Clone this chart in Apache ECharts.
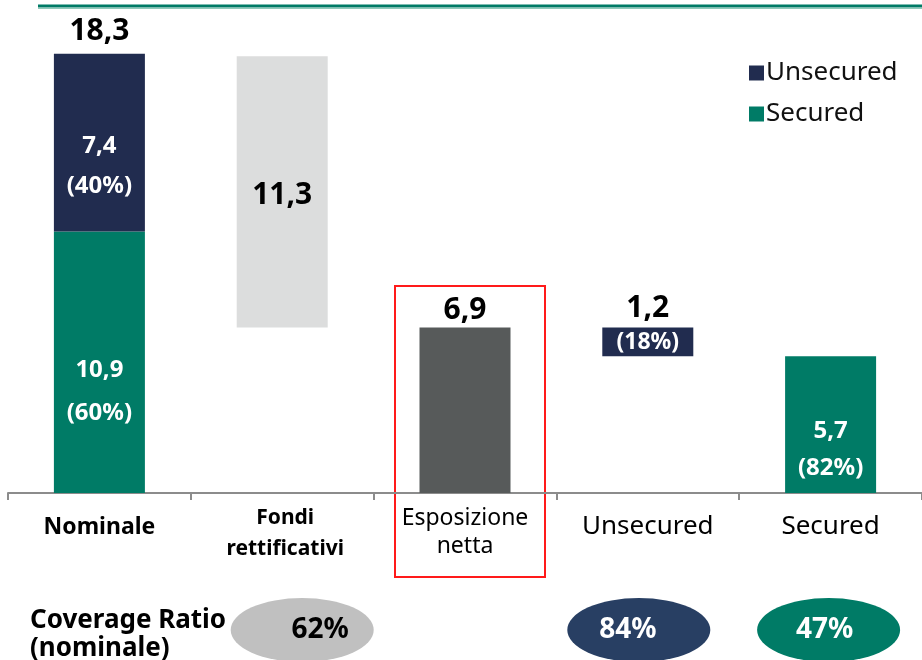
<!DOCTYPE html>
<html><head><meta charset="utf-8">
<script src="https://cdn.jsdelivr.net/npm/echarts@6/dist/echarts.min.js"></script>
<style>html,body{margin:0;padding:0;background:#fff}#chart{width:922px;height:660px}</style>
</head><body><div id="chart"></div>
<script>
// Categories along the x axis
const categories = ['Nominale', 'Fondi\nrettificativi', 'Esposizione\nnetta', 'Unsecured', 'Secured'];
// Invisible floor under floating bars (bn €)
const baseValues = [0, 6.9, 0, 5.7, 0];
const securedValues = [10.9, '-', '-', '-', 5.7];
const unsecuredValues = [7.4, '-', '-', 1.2, '-'];
const fondiValues = ['-', 11.3, '-', '-', '-'];
const nettaValues = ['-', '-', 6.9, '-', '-'];
// Totals printed above the stacks
const totalValues = [18.3, '-', '-', 1.2, '-'];
// Shares (%) shown under the values
const securedShare = [60, '-', '-', '-', 82];
const unsecuredShare = [40, '-', '-', 18, '-'];
// Coverage ratio row (%)
const coverageRatio = ['-', 62, '-', 84, 47];

const NAVY = '#212c4f', TEAL = '#007b66', LIGHT = '#dcdddd', DARK = '#575a5a';
const FONT = 'Noto Sans';
const fmt = v => v.toFixed(1).replace('.', ',');

const white = (size, lh) => ({ color: '#fff', fontWeight: 'bold', fontSize: size, lineHeight: lh, fontFamily: FONT });

// per-item label placement for the stacked sections
const securedLabelOpt = { 0: { offset: [0, 29], lh: 43 }, 4: { offset: [0, 25], lh: 37 } };
const unsecuredLabelOpt = { 0: { offset: [0, 24], lh: 40 }, 3: { offset: [0, 1], lh: 24 } };

function items(values, build) {
  return values.map((v, i) => (v === '-' ? '-' : Object.assign({ value: v }, build ? build(v, i) : {})));
}

const securedData = items(securedValues, (v, i) => ({
  label: Object.assign({ show: true, position: 'inside', offset: securedLabelOpt[i].offset,
    formatter: fmt(v) + '\n(' + securedShare[i] + '%)' }, white(24, securedLabelOpt[i].lh))
}));
const unsecuredData = items(unsecuredValues, (v, i) => ({
  label: Object.assign({ show: true, position: 'inside', offset: unsecuredLabelOpt[i].offset,
    formatter: i === 0 ? fmt(v) + '\n(' + unsecuredShare[i] + '%)' : '(' + unsecuredShare[i] + '%)' },
    white(i === 0 ? 24 : 23, unsecuredLabelOpt[i].lh))
}));
// zero-height caps carrying the total labels
const totalData = items(totalValues, (v, i) => ({
  value: 0,
  label: { show: true, position: 'top', distance: i === 0 ? 7 : 4, formatter: fmt(v), color: '#000', fontWeight: 'bold', fontSize: 30, fontFamily: FONT }
}));

const coverageColors = ['#c0c0c0', '#c0c0c0', '#c0c0c0', '#283f63', TEAL];
const coverageText = ['#000', '#000', '#000', '#fff', '#fff'];
const coverageOffset = [0, 20, 0, -9, -2];
const coverageData = coverageRatio.map((v, i) => v === '-' ? null : {
  value: [i, 0, v],
  symbolOffset: [coverageOffset[i], 0],
  itemStyle: { color: coverageColors[i], opacity: 1 },
  label: { show: true, position: 'inside', offset: [coverageOffset[i] - 2, 0], formatter: v + '%', color: coverageText[i], fontWeight: 'bold', fontSize: 28, fontFamily: FONT }
}).filter(Boolean);

const labelStyles = [
  { fontWeight: 'bold', fontSize: 23, lineHeight: 30, padding: [9, 0, 0, 0] },
  { fontWeight: 'bold', fontSize: 21, lineHeight: 31, padding: [0, 0, 0, 6] },
  { fontWeight: 'normal', fontSize: 23, lineHeight: 28, padding: [1, 0, 0, 0] },
  { fontWeight: 'normal', fontSize: 26, lineHeight: 30, padding: [9, 0, 0, 0] },
  { fontWeight: 'normal', fontSize: 26, lineHeight: 30, padding: [9, 0, 0, 0] }
];

const chart = echarts.init(document.getElementById('chart'), null, { renderer: 'canvas' });
chart.setOption({
  animation: false,
  backgroundColor: '#fff',
  textStyle: { fontFamily: FONT },
  legend: {
    data: ['Unsecured', 'Secured'],
    orient: 'vertical', left: 744, top: 55, itemGap: 15,
    itemWidth: 15, itemHeight: 15, icon: 'rect',
    textStyle: { fontSize: 26, lineHeight: 26, color: '#111', fontFamily: FONT, padding: [0, 0, 0, -3] }
  },
  grid: [
    { left: 8, width: 916.5, top: 13, height: 480 },
    { left: 8, width: 916.5, top: 600, height: 64 }
  ],
  xAxis: [
    {
      type: 'category', gridIndex: 0,
      data: categories.map((c, i) => ({ value: c, textStyle: labelStyles[i] })),
      axisLine: { lineStyle: { color: '#8c8c8c', width: 2 } },
      axisTick: { show: true, length: 7, lineStyle: { color: '#8c8c8c', width: 2 } },
      axisLabel: { color: '#000', margin: 10, fontFamily: FONT, interval: 0 }
    },
    { type: 'category', gridIndex: 1, data: categories, show: false }
  ],
  yAxis: [
    { type: 'value', gridIndex: 0, min: 0, max: 20, show: false, splitLine: { show: false } },
    { type: 'value', gridIndex: 1, min: -1, max: 1, show: false, splitLine: { show: false } }
  ],
  series: [
    { name: 'base', type: 'bar', stack: 'w', barWidth: 91, data: baseValues, itemStyle: { color: 'transparent' }, silent: true },
    { name: 'Secured', type: 'bar', stack: 'w', barWidth: 91, data: securedData, itemStyle: { color: TEAL } },
    { name: 'Unsecured', type: 'bar', stack: 'w', barWidth: 91, data: unsecuredData, itemStyle: { color: NAVY } },
    { name: 'Fondi', type: 'bar', stack: 'w', barWidth: 91, data: fondiValues, itemStyle: { color: LIGHT },
      label: { show: true, position: 'inside', offset: [0, 4], formatter: p => fmt(p.value), color: '#000', fontWeight: 'bold', fontSize: 30, fontFamily: FONT } },
    { name: 'Netta', type: 'bar', stack: 'w', barWidth: 91, data: nettaValues, itemStyle: { color: DARK },
      label: { show: true, position: 'top', distance: 2, formatter: p => fmt(p.value), color: '#000', fontWeight: 'bold', fontSize: 30, fontFamily: FONT } },
    { name: 'Totale', type: 'bar', stack: 'w', barWidth: 91, data: totalData, itemStyle: { color: 'transparent' } },
    { name: 'Coverage', type: 'scatter', xAxisIndex: 1, yAxisIndex: 1, symbol: 'circle', symbolSize: [143, 64], data: coverageData }
  ],
  graphic: [
    { type: 'line', shape: { x1: 38, y1: 6, x2: 922, y2: 6 }, style: { stroke: TEAL, lineWidth: 3 } },
    { type: 'line', shape: { x1: 38, y1: 8.5, x2: 922, y2: 8.5 }, style: { stroke: '#8fcab9', lineWidth: 1 } },
    { type: 'rect', shape: { x: 395, y: 286, width: 150, height: 291 }, style: { fill: 'none', stroke: '#ff1a1a', lineWidth: 2 } },
    { type: 'text', left: 30, top: 607, style: { text: 'Coverage Ratio\n(nominale)', fontSize: 26, fontWeight: 'bold', lineHeight: 28, fill: '#000', fontFamily: FONT } }
  ]
});
</script></body></html>
